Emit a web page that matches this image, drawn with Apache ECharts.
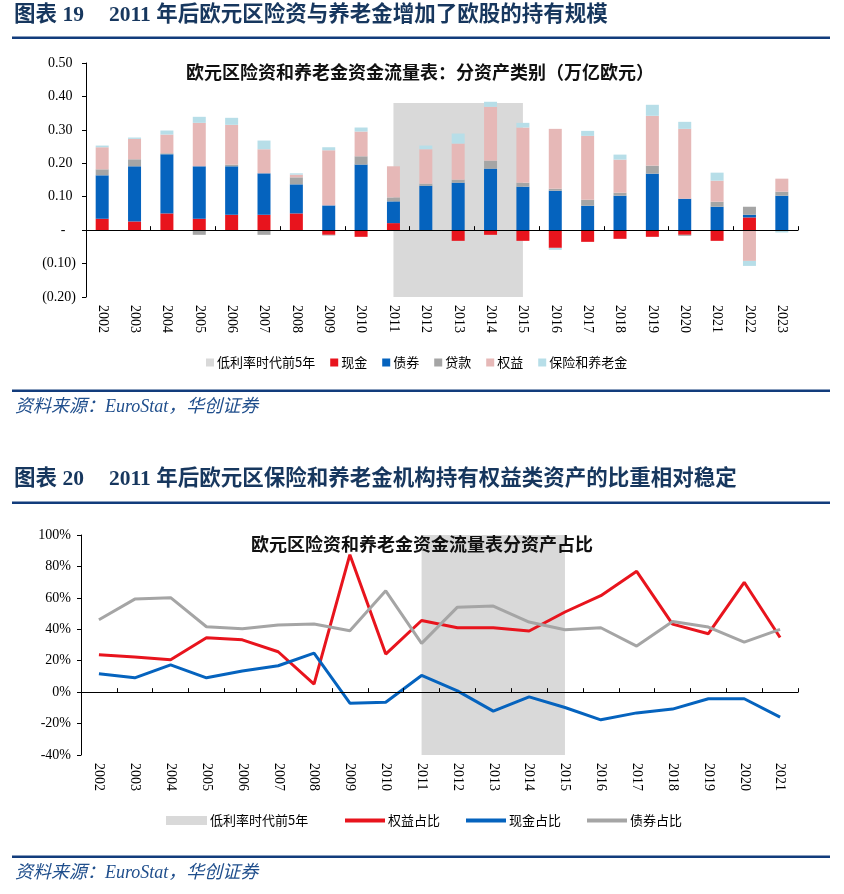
<!DOCTYPE html>
<html>
<head>
<meta charset="utf-8">
<script src="https://cdn.jsdelivr.net/npm/echarts@6/dist/echarts.min.js"></script>
<style>
html,body{margin:0;padding:0;background:#fff;}
#c{width:844px;height:894px;}
</style>
</head>
<body>
<div id="c"></div>
<script>
// ---------- Chart 19 data (万亿欧元) ----------
const years1 = ['2002','2003','2004','2005','2006','2007','2008','2009','2010','2011','2012','2013','2014','2015','2016','2017','2018','2019','2020','2021','2022','2023'];
const cashFlow   = [0.034,0.026,0.050,0.034,0.046,0.046,0.050,-0.014,-0.020,0.021,0,-0.032,-0.014,-0.032,-0.053,-0.035,-0.026,-0.020,-0.014,-0.032,0.038,0];
const bondFlow   = [0.130,0.165,0.177,0.157,0.145,0.124,0.087,0.074,0.196,0.065,0.133,0.142,0.184,0.130,0.118,0.073,0.103,0.169,0.094,0.070,0.008,0.103];
const loanFlow   = [0.018,0.021,0.003,-0.014,0.005,-0.014,0.021,-0.002,0.025,0.012,0.006,0.009,0.024,0.012,0.006,0.018,0.009,0.024,-0.003,0.015,0.024,0.012];
const equityFlow = [0.066,0.061,0.056,0.130,0.119,0.072,0.008,0.165,0.074,0.093,0.103,0.108,0.161,0.165,0.179,0.191,0.099,0.149,0.209,0.063,-0.092,0.039];
const insFlow    = [0.005,0.004,0.012,0.018,0.021,0.026,0.004,0.009,0.012,-0.002,0.011,0.030,0.015,0.014,-0.006,0.015,0.015,0.033,0.021,0.024,-0.015,-0.007];
const shade1 = { start: '2011', end: '2015', top: 0.38, bottom: -0.2 };

// ---------- Chart 20 data (%) ----------
const years2 = ['2002','2003','2004','2005','2006','2007','2008','2009','2010','2011','2012','2013','2014','2015','2016','2017','2018','2019','2020','2021'];
const equityShare = [23.8,22.3,20.6,34.6,33.3,25.7,5.1,87.5,24.2,45.6,41.0,41.0,38.9,51.0,61.4,76.9,43.3,37.2,69.9,34.8];
const cashShare   = [11.7,9.1,17.4,9.1,13.4,16.8,24.8,-7.0,-6.4,10.6,0.8,-12.1,-3.0,-9.8,-17.6,-13.2,-10.8,-4.2,-4.2,-15.9];
const bondShare   = [46.1,59.2,60.1,41.6,40.3,42.7,43.3,39.1,64.5,31.0,54.1,54.8,44.6,39.7,41.0,29.3,45.0,41.4,31.8,39.9];
const shade2 = { start: '2011', end: '2015', top: 100, bottom: -40 };

// ---------- Texts ----------
const head19Num = '图表 19';
const head19 = '2011 年后欧元区险资与养老金增加了欧股的持有规模';
const head20Num = '图表 20';
const head20 = '2011 年后欧元区保险和养老金机构持有权益类资产的比重相对稳定';
const title19 = '欧元区险资和养老金资金流量表：分资产类别（万亿欧元）';
const title20 = '欧元区险资和养老金资金流量表分资产占比';
const sourceText = '资料来源：EuroStat，华创证券';

const C = { cash:'#E8141D', bond:'#0563BE', loan:'#A5A5A5', equity:'#E6B8B7', ins:'#B7DEE8', shade:'#D9D9D9' };
const serif = '"Liberation Serif","Times New Roman","Noto Sans CJK SC",serif';
const cjk = '"Noto Sans CJK SC","Liberation Serif",sans-serif';
const navy = '#17375E';
const lineNavy = '#123C7C';

const chart = echarts.init(document.getElementById('c'), null, {renderer:'canvas'});

function fmt1(v){
  if (Math.abs(v) < 1e-9) return '-   ';
  if (v < 0) return '(' + Math.abs(v).toFixed(2) + ')';
  return v.toFixed(2) + ' ';
}

const labelAxisCommon = {
  type:'category', boundaryGap:true,
  axisLine:{show:false, onZero:false}, axisTick:{show:false},
  axisLabel:{rotate:-90, margin:8, color:'#000', fontFamily:serif, fontSize:14, interval:0}
};
const lineAxisCommon = {
  type:'category', boundaryGap:true, z:5,
  axisLine:{show:true, onZero:true, lineStyle:{color:'#000', width:1}},
  axisTick:{show:true, inside:false, length:4, lineStyle:{color:'#000'}},
  axisLabel:{show:false}
};

function barSeries(name, data, color){
  return { name, type:'bar', stack:'flow', data, barWidth:13, xAxisIndex:0, yAxisIndex:0,
    itemStyle:{color}, emphasis:{disabled:true} };
}
function lineSeries(name, data, color){
  return { name, type:'line', data, xAxisIndex:2, yAxisIndex:1, symbol:'none',
    lineStyle:{color, width:3}, itemStyle:{color}, emphasis:{disabled:true} };
}
const legendText = {fontFamily:cjk, fontSize:13, color:'#000', padding:[0,0,0,-2]};

const option = {
  animation:false,
  backgroundColor:'#fff',
  title:[
    { text:title19, left:181, top:58, textStyle:{fontFamily:cjk, fontSize:18, fontWeight:'bold', color:'#111'} },
    { text:title20, left:246, top:530, textStyle:{fontFamily:cjk, fontSize:18, fontWeight:'bold', color:'#111'} }
  ],
  grid:[
    { left:86, right:46, top:63, height:234 },
    { left:81, right:46, top:535, height:220 }
  ],
  xAxis:[
    Object.assign({gridIndex:0, data:years1, position:'bottom'}, labelAxisCommon),
    Object.assign({gridIndex:0, data:years1}, lineAxisCommon),
    Object.assign({gridIndex:1, data:years2, position:'bottom'}, labelAxisCommon),
    Object.assign({gridIndex:1, data:years2}, lineAxisCommon)
  ],
  yAxis:[
    { gridIndex:0, type:'value', min:-0.2, max:0.5, interval:0.1,
      axisLine:{show:true, lineStyle:{color:'#000'}}, axisTick:{show:true, length:4, lineStyle:{color:'#000'}},
      splitLine:{show:false},
      axisLabel:{formatter:fmt1, color:'#000', fontFamily:serif, fontSize:14, margin:10} },
    { gridIndex:1, type:'value', min:-40, max:100, interval:20,
      axisLine:{show:true, lineStyle:{color:'#000'}}, axisTick:{show:true, length:4, lineStyle:{color:'#000'}},
      splitLine:{show:false},
      axisLabel:{formatter:(v)=>v+'%', color:'#000', fontFamily:serif, fontSize:14, margin:10} }
  ],
  legend:[
    { left:201, top:351, itemWidth:8, itemHeight:8, itemGap:15, selectedMode:false, textStyle:legendText,
      data:[{name:'低利率时代前5年', icon:'rect', itemStyle:{color:C.shade}}, {name:'现金',icon:'rect'}, {name:'债券',icon:'rect'}, {name:'贷款',icon:'rect'}, {name:'权益',icon:'rect'}, {name:'保险和养老金',icon:'rect'}] },
    { left:161, top:809, itemWidth:41, itemHeight:9, selectedMode:false, textStyle:legendText,
      data:[{name:'低利率时代前5年 ', icon:'rect', itemStyle:{color:C.shade}}] },
    { left:340, top:809, itemWidth:40, itemHeight:4, itemGap:26, selectedMode:false, textStyle:legendText,
      data:[{name:'权益占比', icon:'rect'}, {name:'现金占比', icon:'rect'}, {name:'债券占比', icon:'rect'}] }
  ],
  series:[
    { name:'低利率时代前5年', type:'line', data:[], xAxisIndex:0, yAxisIndex:0, symbol:'none',
      itemStyle:{color:C.shade}, lineStyle:{color:C.shade},
      markArea:{ silent:true, itemStyle:{color:C.shade},
        data:[[{xAxis:shade1.start, yAxis:shade1.top},{xAxis:shade1.end, yAxis:shade1.bottom}]] } },
    barSeries('现金', cashFlow, C.cash),
    barSeries('债券', bondFlow, C.bond),
    barSeries('贷款', loanFlow, C.loan),
    barSeries('权益', equityFlow, C.equity),
    barSeries('保险和养老金', insFlow, C.ins),
    { name:'低利率时代前5年 ', type:'line', data:[], xAxisIndex:2, yAxisIndex:1, symbol:'none',
      itemStyle:{color:C.shade}, lineStyle:{color:C.shade},
      markArea:{ silent:true, itemStyle:{color:C.shade},
        data:[[{xAxis:shade2.start, yAxis:shade2.top},{xAxis:shade2.end, yAxis:shade2.bottom}]] } },
    lineSeries('权益占比', equityShare, C.cash),
    lineSeries('现金占比', cashShare, C.bond),
    lineSeries('债券占比', bondShare, C.loan)
  ],
  graphic:[
    { type:'text', left:14, top:5, style:{text:head19Num, font:'bold 21.5px '+serif, fill:navy} },
    { type:'text', left:109, top:5, style:{text:head19, font:'bold 21.5px '+serif, fill:navy} },
    { type:'rect', shape:{x:12, y:36.5, width:818, height:2.5}, style:{fill:lineNavy} },
    { type:'rect', shape:{x:12, y:389.5, width:818, height:2.5}, style:{fill:lineNavy} },
    { type:'text', left:15, top:398, style:{text:sourceText, font:'italic 18px '+serif, fill:'#1F4E8C'} },
    { type:'text', left:14, top:469, style:{text:head20Num, font:'bold 21.5px '+serif, fill:navy} },
    { type:'text', left:109, top:469, style:{text:head20, font:'bold 21.5px '+serif, fill:navy} },
    { type:'rect', shape:{x:12, y:501.5, width:818, height:2.5}, style:{fill:lineNavy} },
    { type:'rect', shape:{x:12, y:855.5, width:818, height:2.5}, style:{fill:lineNavy} },
    { type:'text', left:15, top:864, style:{text:sourceText, font:'italic 18px '+serif, fill:'#1F4E8C'} }
  ]
};
chart.setOption(option);
</script>
</body>
</html>
